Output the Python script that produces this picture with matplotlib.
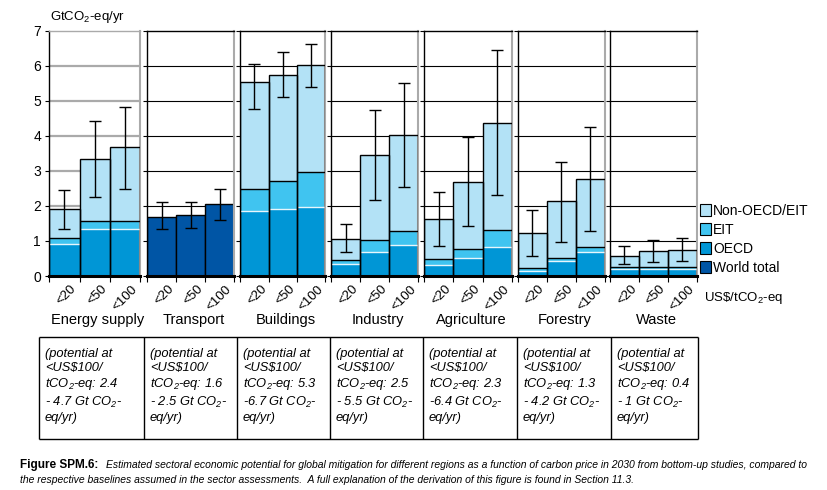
import matplotlib
matplotlib.use("Agg")
import matplotlib.pyplot as plt
import matplotlib.transforms as mtransforms
from matplotlib.patches import Patch
import numpy as np

plt.rcParams['font.family'] = ['Liberation Sans', 'DejaVu Sans']
plt.rcParams['mathtext.default'] = 'regular'

# ---- data ----
sectors = ["Energy supply", "Transport", "Buildings", "Industry",
           "Agriculture", "Forestry", "Waste"]
prices = ["<20", "<50", "<100"]

oecd = [[0.91, 1.35, 1.35], [0, 0, 0], [1.85, 1.91, 1.98], [0.33, 0.69, 0.88],
        [0.30, 0.52, 0.84], [0.14, 0.43, 0.68], [0.19, 0.19, 0.19]]
eit = [[0.17, 0.22, 0.22], [0, 0, 0], [0.62, 0.81, 0.98], [0.12, 0.35, 0.39],
       [0.18, 0.26, 0.46], [0.08, 0.09, 0.15], [0.08, 0.08, 0.08]]
non_oecd = [[0.82, 1.76, 2.10], [0, 0, 0], [3.06, 3.03, 3.05], [0.62, 2.40, 2.75],
            [1.14, 1.89, 3.06], [1.00, 1.61, 1.93], [0.31, 0.43, 0.47]]
world = [[0, 0, 0], [1.69, 1.73, 2.05], [0, 0, 0], [0, 0, 0],
         [0, 0, 0], [0, 0, 0], [0, 0, 0]]
err_low = [[1.35, 2.25, 2.47], [1.33, 1.36, 1.59], [4.76, 5.12, 5.39], [0.68, 2.16, 2.53],
           [0.85, 1.42, 2.30], [0.56, 0.96, 1.27], [0.33, 0.39, 0.42]]
err_high = [[2.44, 4.41, 4.83], [2.10, 2.10, 2.49], [6.04, 6.40, 6.61], [1.47, 4.73, 5.50],
            [2.39, 3.97, 6.44], [1.87, 3.24, 4.24], [0.85, 1.02, 1.08]]

pot_low = ["2.4", "1.6", "5.3", "2.5", "2.3", "1.3", "0.4"]
pot_high = ["4.7", "2.5", "6.7", "5.5", "6.4", "4.2", "1"]
pot_sep = ["- ", "- ", "-", "- ", "-", "- ", "- "]

legend_labels = ["Non-OECD/EIT", "EIT", "OECD", "World total"]
c_non, c_eit, c_oecd, c_world = "#b3e2f6", "#40c4f0", "#0096d6", "#0055a5"

# ---- layout (pixels) ----
W, H = 827, 490
fig = plt.figure(figsize=(W / 100, H / 100), dpi=100)
fig.patch.set_facecolor("white")

panel_x = [(49.3, 140), (147.3, 234), (240.3, 325.3), (331, 418.3),
           (424.3, 511.7), (517.7, 604.7), (610, 696.7)]
y_top, y_bot = 30.7, 276


def fx(px):
    return px / W


def fy(py):
    return 1 - py / H


x = np.arange(3) + 0.5
for i, (l, r) in enumerate(panel_x):
    ax = fig.add_axes([fx(l), fy(y_bot), fx(r - l), (y_bot - y_top) / H])
    ax.set_xlim(0, 3)
    ax.set_ylim(0, 7)
    gcol, glw = ("#aaaaaa", 1.6) if i == 0 else ("black", 0.8)
    for g in range(1, 7):
        ax.axhline(g, color=gcol, lw=glw, zorder=0)

    o = np.array(oecd[i]); e = np.array(eit[i]); n = np.array(non_oecd[i])
    w = np.array(world[i])
    if w.sum() > 0:
        ax.bar(x, w, width=1, color=c_world, edgecolor="black", lw=1, zorder=2)
    else:
        ax.bar(x, o, width=1, color=c_oecd, edgecolor="none", zorder=2)
        ax.bar(x, e, bottom=o, width=1, color=c_eit, edgecolor="none", zorder=2)
        ax.bar(x, n, bottom=o + e, width=1, color=c_non, edgecolor="none", zorder=2)
        ax.hlines(o, x - 0.5, x + 0.5, color="#e8f6fc", lw=1, zorder=3)
        ax.hlines(o + e, x - 0.5, x + 0.5, color="black", lw=1, zorder=3)
        ax.bar(x, o + e + n, width=1, fill=False, edgecolor="black", lw=1, zorder=3)

    lo = np.array(err_low[i]); hi = np.array(err_high[i])
    ax.errorbar(x, (lo + hi) / 2, yerr=(hi - lo) / 2, fmt="none", ecolor="black",
                elinewidth=1, capsize=4.3, capthick=1, zorder=4)

    for s in ["top", "left"]:
        ax.spines[s].set_color("#aaaaaa" if (i == 0 and s == "top") else "black")
        ax.spines[s].set_linewidth(1)
    ax.spines["right"].set_color("#aaaaaa")
    ax.spines["right"].set_linewidth(1.5)
    ax.spines["bottom"].set_linewidth(2.2)
    ax.spines["bottom"].set_color("black")

    ax.set_yticks(range(8))
    ax.tick_params(axis="y", direction="out", length=3, width=0.8, labelsize=10, pad=3)
    if i > 0:
        ax.set_yticklabels([])

    ax.set_xticks(x)
    ax.set_xticklabels(prices, rotation=45, ha="right", va="top",
                       rotation_mode="anchor", fontsize=9.5)
    ax.set_xticks([0, 1, 2, 3], minor=True)
    ax.tick_params(axis="x", which="major", length=0, pad=5)
    ax.tick_params(axis="x", which="minor", direction="out", length=4, width=0.8)
    shift = mtransforms.ScaledTranslation(6 / 100, 0, fig.dpi_scale_trans)
    for lab in ax.get_xticklabels():
        lab.set_transform(lab.get_transform() + shift)

    fig.text(fx((l + r) / 2 + 3), fy(320), sectors[i], ha="center", va="center", fontsize=10.5)

fig.text(fx(50), fy(17), "GtCO$_2$-eq/yr", ha="left", va="center", fontsize=9.5)
fig.text(fx(704), fy(298), "US\\$/tCO$_2$-eq", ha="left", va="center", fontsize=9.5)

handles = [Patch(facecolor=c, edgecolor="black", lw=0.8)
           for c in [c_non, c_eit, c_oecd, c_world]]
fig.legend(handles, legend_labels, loc="upper left", bbox_to_anchor=(fx(700), fy(204)),
           frameon=False, fontsize=10, handlelength=0.8, handleheight=0.9,
           handletextpad=0.15, labelspacing=0.35, borderaxespad=0, borderpad=0)

# ---- table of potentials ----
col_x = [39, 144, 237, 330, 423, 517, 611, 698]
t_top, t_bot = 337, 439
tax = fig.add_axes([0, 0, 1, 1])
tax.set_xlim(0, W)
tax.set_ylim(H, 0)
tax.axis("off")
tax.hlines([t_top, t_bot], col_x[0], col_x[-1], color="black", lw=1)
tax.vlines(col_x, t_top, t_bot, color="black", lw=1)
for i in range(len(sectors)):
    txt = ("(potential at\n<US\\$100/\ntCO$_2$-eq: " + pot_low[i] + "\n"
           + pot_sep[i] + pot_high[i] + " Gt CO$_2$-\neq/yr)")
    tax.text(col_x[i] + 6, t_top + 11, txt, ha="left", va="top", fontsize=9.3,
             style="italic", linespacing=1.22)

# ---- caption ----
fig.text(fx(20), fy(465), "Figure SPM.6:", ha="left", va="center", fontsize=8.5,
         fontweight="bold")
cap_font = ['Liberation Sans Narrow', 'Liberation Sans', 'DejaVu Sans']
fig.text(fx(106), fy(465),
         "Estimated sectoral economic potential for global mitigation for different regions as a "
         "function of carbon price in 2030 from bottom-up studies, compared to",
         ha="left", va="center", fontsize=7.5, style="italic", family=cap_font)
fig.text(fx(20), fy(480),
         "the respective baselines assumed in the sector assessments.  A full explanation of the "
         "derivation of this figure is found in Section 11.3.",
         ha="left", va="center", fontsize=7.5, style="italic", family=cap_font)

fig.savefig("out.png", dpi=100)
